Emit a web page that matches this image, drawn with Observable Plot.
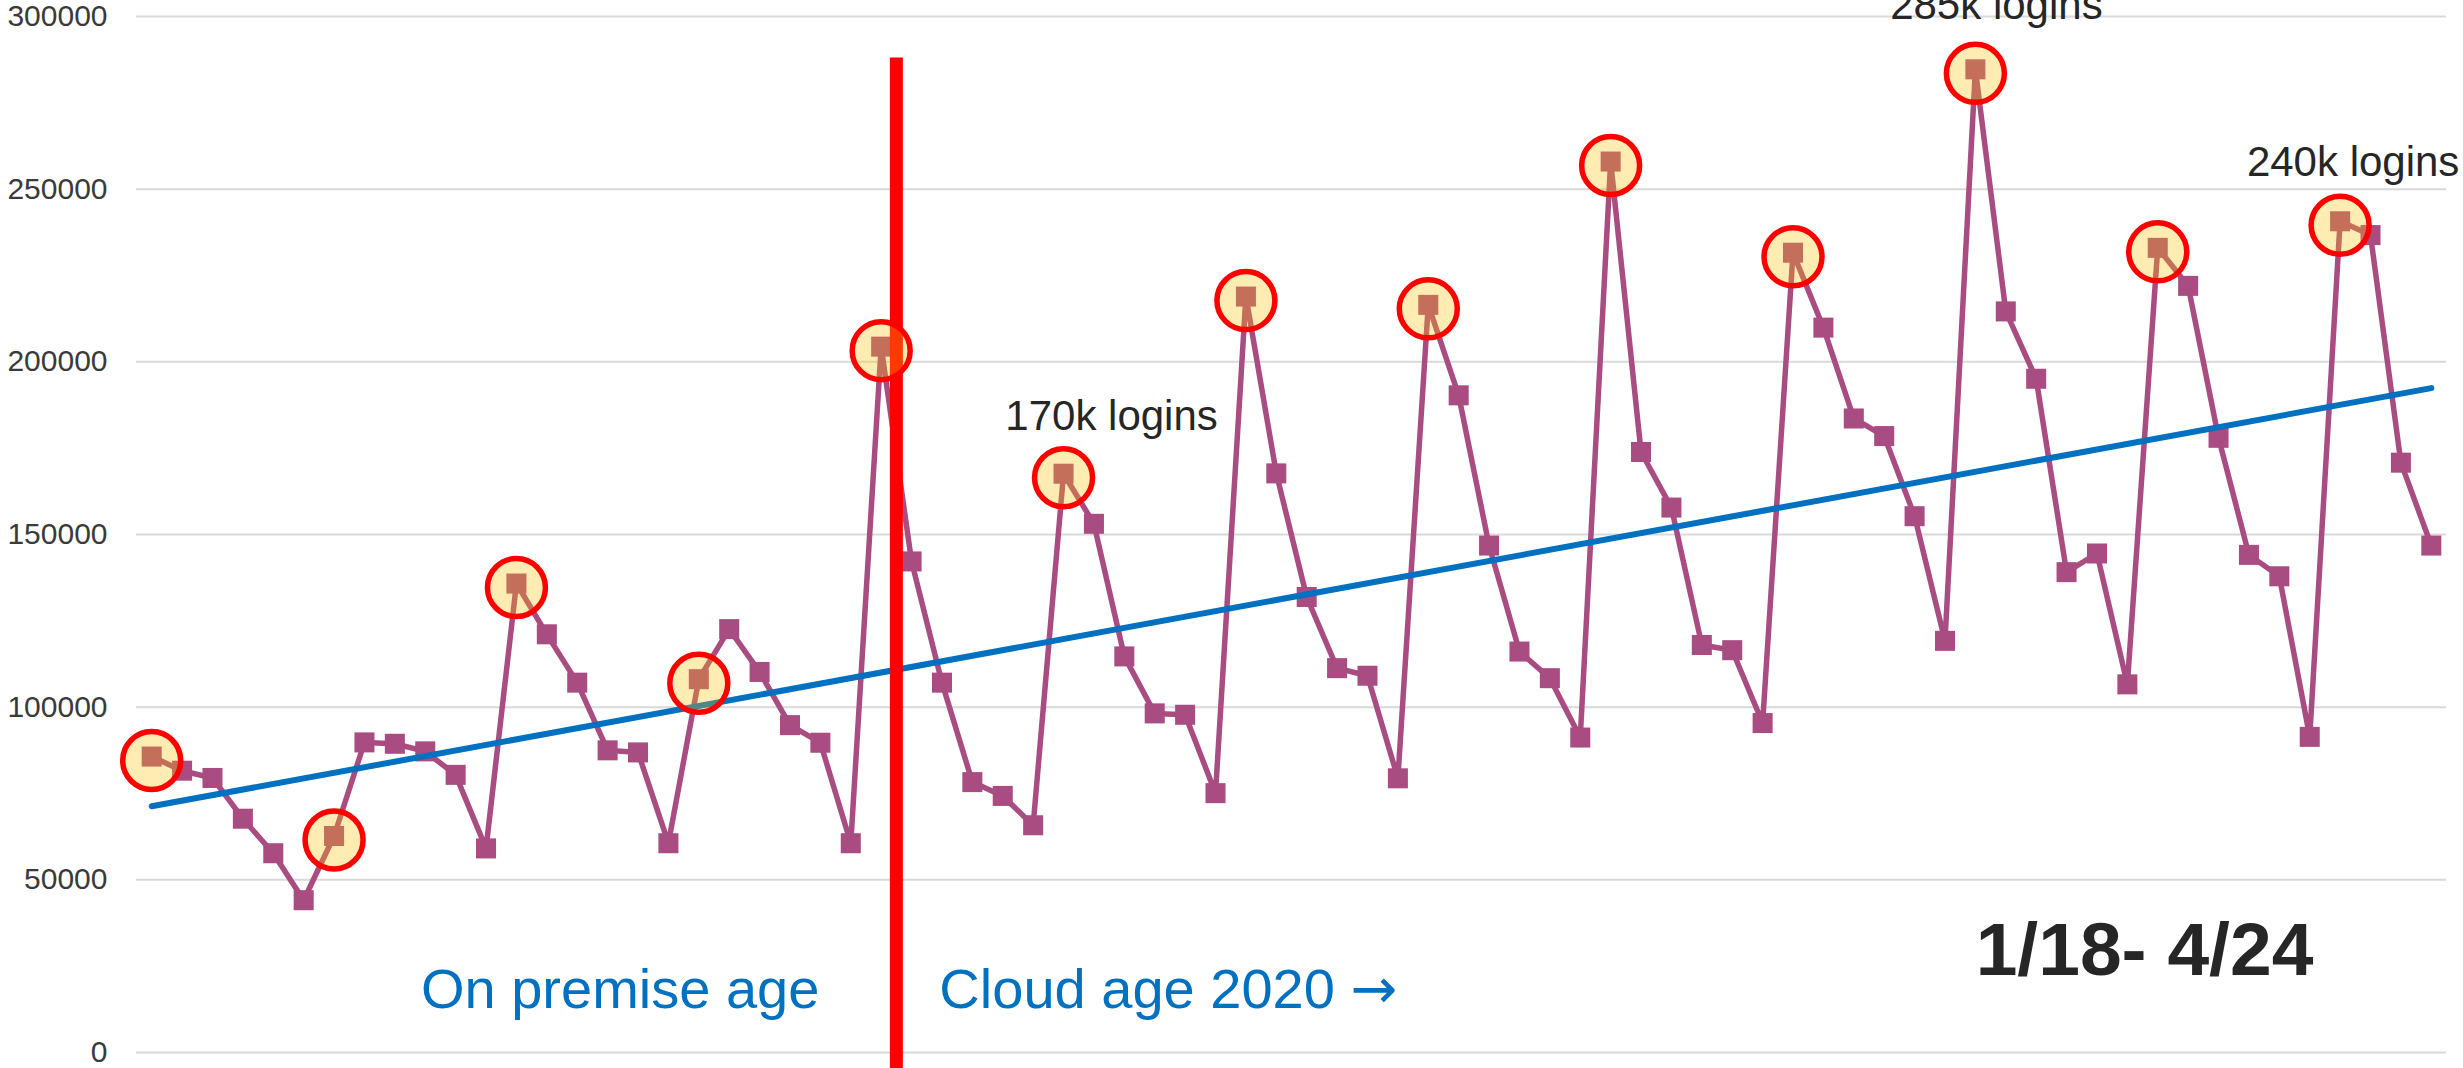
<!DOCTYPE html>
<html>
<head>
<meta charset="utf-8">
<script src="https://cdn.jsdelivr.net/npm/d3@7"></script>
<script src="https://cdn.jsdelivr.net/npm/@observablehq/plot@0.6"></script>
<style>
  html, body { margin: 0; padding: 0; background: #fff; }
  #chart svg { display: block; }
</style>
</head>
<body>
<div id="chart"></div>
<script>
// Monthly categories, Jan 2018 – Apr 2024
const months = [
  "2018-01","2018-02","2018-03","2018-04","2018-05","2018-06","2018-07","2018-08","2018-09","2018-10","2018-11","2018-12",
  "2019-01","2019-02","2019-03","2019-04","2019-05","2019-06","2019-07","2019-08","2019-09","2019-10","2019-11","2019-12",
  "2020-01","2020-02","2020-03","2020-04","2020-05","2020-06","2020-07","2020-08","2020-09","2020-10","2020-11","2020-12",
  "2021-01","2021-02","2021-03","2021-04","2021-05","2021-06","2021-07","2021-08","2021-09","2021-10","2021-11","2021-12",
  "2022-01","2022-02","2022-03","2022-04","2022-05","2022-06","2022-07","2022-08","2022-09","2022-10","2022-11","2022-12",
  "2023-01","2023-02","2023-03","2023-04","2023-05","2023-06","2023-07","2023-08","2023-09","2023-10","2023-11","2023-12",
  "2024-01","2024-02","2024-03","2024-04"
];

// Logins per month
const logins = [
  85700, 81600, 79500, 67700, 57700, 44100, 62700, 89800, 89400, 87200, 80400, 59100,
  135800, 121100, 107100, 87500, 86900, 60600, 108100, 122600, 110200, 94800, 89700, 60600,
  204400, 142200, 107100, 78300, 74300, 65800, 167600, 153100, 114700, 98200, 97800, 75100,
  218900, 167700, 131900, 111300, 109100, 79400, 216500, 190300, 146800, 116100, 108400, 91200,
  258000, 173900, 157800, 118000, 116500, 95400, 231600, 209900, 183600, 178500, 155300, 119200,
  284700, 214600, 195100, 139100, 144500, 106600, 233000, 222000, 178000, 144100, 137900, 91400,
  240700, 236700, 170800, 146800
];

// Circled months (January and July peaks)
const highlighted = [
  "2018-01","2018-07","2019-01","2019-07","2020-01","2020-07","2021-01",
  "2021-07","2022-01","2022-07","2023-01","2023-07","2024-01"
];

// Y axis ticks
const yTicks = [0, 50000, 100000, 150000, 200000, 250000, 300000];

// Annotation texts
const label170 = {month: "2020-07", text: "170k logins"};
const label285 = {month: "2023-01", text: "285k logins"};
const label240 = {month: "2024-01", text: "240k logins"};
const premiseText = "On premise age";
const cloudText = "Cloud age 2020 \u2192";
const periodText = "1/18- 4/24";

// Boundary between on-premise and cloud (between Jan 2020 and Feb 2020)
const cloudStartIndex = months.indexOf("2020-01") + 0.5;
const dividerTop = 288000;
const dividerBottom = -4700;

const data = months.map((m, i) => ({i, month: m, logins: logins[i]}));
const peakData = data.filter(d => highlighted.includes(d.month));
const byMonth = m => data.filter(d => d.month === m);

const font = "'Liberation Sans', Arial, Helvetica, sans-serif";
const lineColor = "#A94C82";
const blue = "#0070C0";

const chart = Plot.plot({
  width: 2463,
  height: 1068,
  marginTop: 16,
  marginBottom: 16,
  marginLeft: 136,
  marginRight: 17,
  style: {fontFamily: font, background: "#fff", overflow: "visible"},
  x: {type: "linear", domain: [-0.5, months.length - 0.5], axis: null},
  y: {domain: [0, 300000], axis: null},
  marks: [
    Plot.gridY(yTicks, {stroke: "#d9d9d9", strokeOpacity: 1, strokeWidth: 2}),
    Plot.axisY(yTicks, {
      tickSize: 0, tickPadding: 29, fontSize: 30, fill: "#3a3a3a",
      tickFormat: d => String(d), label: null
    }),
    Plot.line(data, {x: "i", y: "logins", stroke: lineColor, strokeWidth: 5.5}),
    Plot.dot(data, {x: "i", y: "logins", symbol: "square", r: 11.3, fill: lineColor, stroke: "none"}),
    Plot.linearRegressionY(data, {x: "i", y: "logins", stroke: blue, strokeWidth: 6, ci: 0}),
    Plot.ruleX([cloudStartIndex], {x: d => d, y1: dividerTop, y2: dividerBottom, stroke: "#FF0000", strokeWidth: 13, clip: false}),
    Plot.dot(peakData, {x: "i", y: "logins", r: 29, dy: 4, fill: "#FFC000", fillOpacity: 0.3, stroke: "#FF0000", strokeWidth: 5.5}),
    Plot.text(byMonth(label170.month), {x: "i", y: "logins", text: () => label170.text, dx: 48, dy: -57, fontSize: 42, fill: "#262626"}),
    Plot.text(byMonth(label285.month), {x: "i", y: "logins", text: () => label285.text, dx: 21, dy: -64, fontSize: 42, fill: "#262626"}),
    Plot.text(byMonth(label240.month), {x: "i", y: "logins", text: () => label240.text, dx: 13, dy: -59, fontSize: 42, fill: "#262626"}),
    Plot.text([cloudStartIndex], {x: d => d, frameAnchor: "bottom", text: () => premiseText, textAnchor: "end", dx: -77, dy: -45, fontSize: 56, fill: blue}),
    Plot.text([cloudStartIndex], {x: d => d, frameAnchor: "bottom", text: () => cloudText, textAnchor: "start", dx: 43, dy: -45, fontSize: 56, fill: blue}),
    Plot.text([periodText], {frameAnchor: "bottom-right", text: d => d, textAnchor: "middle", dx: -302, dy: -78, fontSize: 75, fontWeight: "bold", fill: "#262626"})
  ]
});

// Render the arrow glyph with a font whose arrow matches the reference's weight and size
d3.select(chart).selectAll("text").each(function() {
  const t = d3.select(this);
  if (t.selectAll("tspan").empty() && t.text() === cloudText) {
    const arrow = "\u2192";
    t.text(cloudText.slice(0, -1));
    t.append("tspan").attr("font-family", "'DejaVu Sans', sans-serif").attr("font-size", 56).text(arrow);
  }
});

document.getElementById("chart").appendChild(chart);
</script>
</body>
</html>
